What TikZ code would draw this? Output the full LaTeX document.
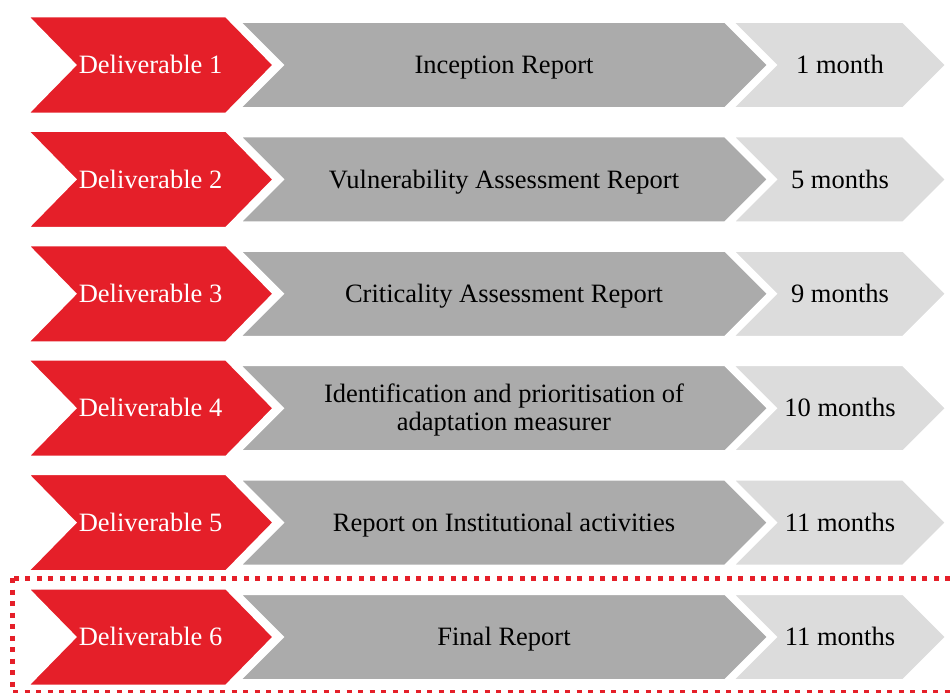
\documentclass[tikz,border=0pt]{standalone}
\usepackage{fontspec}
\setmainfont{Liberation Serif}
\definecolor{delred}{HTML}{E51F29}
\definecolor{taskgray}{HTML}{ABABAB}
\definecolor{timegray}{HTML}{DCDCDC}
\begin{document}
\begin{tikzpicture}[x=1pt,y=-1pt,
        chev/.style={draw=white,line width=2pt,line join=miter},
        lbl/.style={align=center,inner sep=0pt,text height=17.4pt,text depth=0pt,
                    font=\fontsize{26.5}{28}\selectfont}]
        \useasboundingbox (0,0) rectangle (950,693);

        % Zeilen
        \foreach \row/\task/\time/\dy in {1/{Inception Report}/{1 month}/0,
                2/{Vulnerability Assessment Report}/{5 months}/0,
                3/{Criticality Assessment Report}/{9 months}/0,
                4/{Identification and prioritisation of\\adaptation measurer}/{10 months}/14,
                5/{Report on Institutional activities}/{11 months}/0,
                6/{Final Report}/{11 months}/0} {
            \pgfmathsetmacro{\yc}{65+114.4*(\row-1)}
            % Dauer
            \fill[timegray,chev] (733,\yc-43) -- (903,\yc-43) -- (946,\yc) -- (903,\yc+43)
                       -- (733,\yc+43) -- (776,\yc) -- cycle;
            \node[lbl,text=black] (time\row) at (840,\yc) {\time};
            % Bericht
            \fill[taskgray,chev] (240,\yc-43) -- (725,\yc-43) -- (768,\yc) -- (725,\yc+43)
                       -- (240,\yc+43) -- (283,\yc) -- cycle;
            \node[lbl,text=black] (task\row) at (504,\yc+\dy) {\task};
            % Deliverable
            \fill[delred,chev] (28,\yc-48.5) -- (226,\yc-48.5) -- (273.5,\yc) -- (226,\yc+48.5)
                       -- (28,\yc+48.5) -- (75.5,\yc) -- cycle;
            \node[lbl,text=white] (del\row) at (150.5,\yc) {Deliverable \row};
        }

        % Rahmen
        \draw[delred,line width=5pt,dash pattern=on 5pt off 6.5pt] (12,578) rectangle (965,692);
    \end{tikzpicture}
\end{document}
